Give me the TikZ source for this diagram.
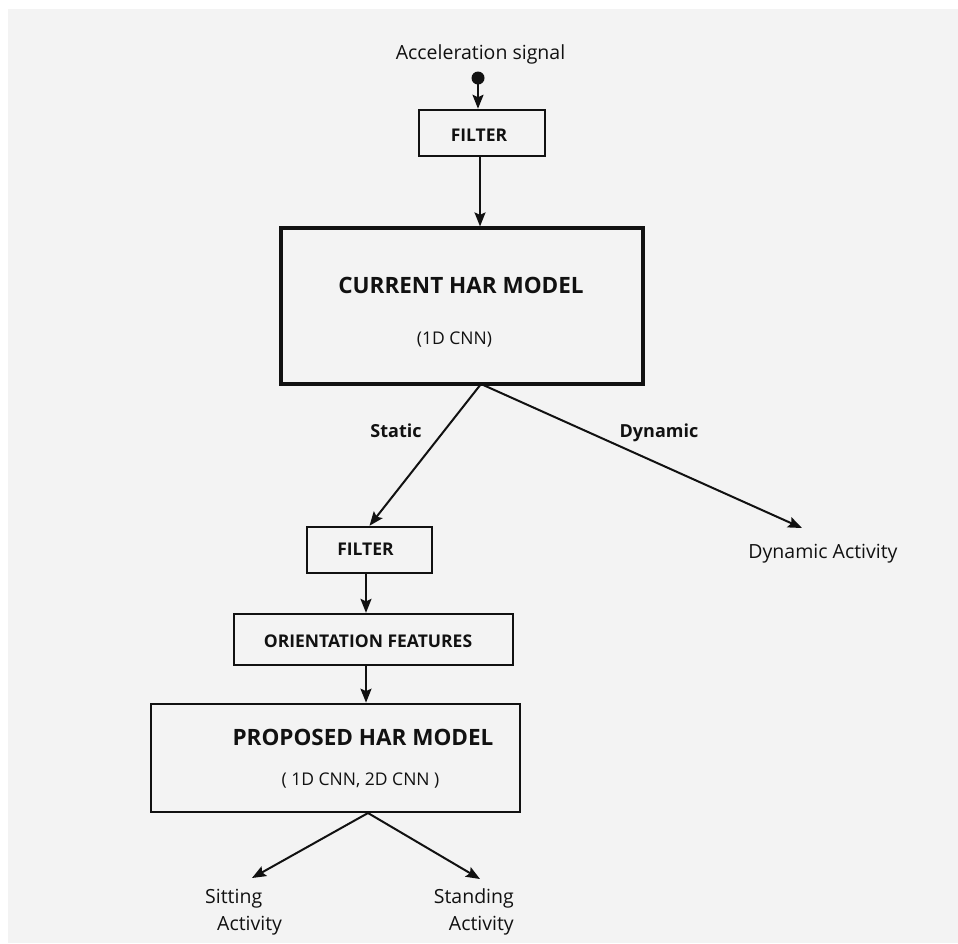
\documentclass[tikz,border=0pt]{standalone}
\usepackage{fontspec}
\setmainfont{Open Sans}
\usetikzlibrary{arrows.meta}
\definecolor{panel}{HTML}{F3F3F3}
\definecolor{ink}{HTML}{111111}
\newcommand{\fsz}[1]{\fontsize{#1}{1.2\dimexpr#1pt\relax}\selectfont}
\tikzset{
  box/.style={draw=ink, line width=2.5pt, fill=none, inner sep=0pt},
  bigbox/.style={box, line width=3.2pt},
  lbl/.style={inner sep=0pt, text=ink, anchor=base},
  arr/.style={draw=ink, line width=2pt, -{Stealth[length=14pt, width=11pt, inset=2.5pt]}},
}
\begin{document}
\begin{tikzpicture}[x=1pt, y=-1pt]
  % canvas
  \useasboundingbox (0,0) rectangle (958,943);
  \fill[white] (0,0) rectangle (958,943);
  \fill[panel] (8,9) rectangle (958,943);

  % input
  \node[lbl, font=\fsz{19.5}] (sig) at (480.5,59.5) {Acceleration signal};
  \node[circle, fill=ink, inner sep=0pt, minimum size=13pt] (dot) at (478,78) {};

  % first filter
  \node[box, minimum width=126pt, minimum height=46pt] (filt1) at (482,133) {};
  \node[lbl, font=\bfseries\fsz{17.5}] (filt1t) at (479,141.7) {FILTER};

  % current model
  \node[bigbox, minimum width=362pt, minimum height=156pt] (cur) at (462,306) {};
  \node[lbl, font=\bfseries\fsz{22.5}] (curt) at (461,293.3) {CURRENT HAR MODEL};
  \node[lbl, font=\fsz{17.5}] (curs) at (454.5,344) {(1D CNN)};
  \coordinate (cs) at (481,384);

  % branch labels
  \node[lbl, font=\bfseries\fsz{18}] (stat) at (396,437.3) {Static};
  \node[lbl, font=\bfseries\fsz{18}] (dynl) at (659,437.3) {Dynamic};

  % dynamic branch
  \node[lbl, font=\fsz{19.5}] (dyn) at (823,558.3) {Dynamic Activity};
  \coordinate (dynin) at (802,528);

  % second filter
  \node[box, minimum width=125pt, minimum height=46pt] (filt2) at (369.5,550) {};
  \node[lbl, font=\bfseries\fsz{17.5}] (filt2t) at (365.5,555.7) {FILTER};

  % orientation features
  \node[box, line width=2.3pt, minimum width=279pt, minimum height=51pt] (ori) at (373.5,639.5) {};
  \node[lbl, font=\bfseries\fsz{17.5}] (orit) at (368,647.7) {ORIENTATION FEATURES};

  % proposed model
  \node[box, line width=2.7pt, minimum width=369pt, minimum height=108pt] (prop) at (335.5,758) {};
  \node[lbl, font=\bfseries\fsz{22.5}] (propt) at (363,745.7) {PROPOSED HAR MODEL};
  \node[lbl, font=\fsz{17.5}] (props) at (360.5,785.7) {( 1D CNN, 2D CNN )};
  \coordinate (ps) at (368,813);

  % outputs
  \node[lbl, anchor=base west, font=\fsz{19.5}] (sitA) at (205,903) {Sitting};
  \node[lbl, anchor=base west, font=\fsz{19.5}] (sitB) at (217,930.5) {Activity};
  \node[lbl, anchor=base east, font=\fsz{19.5}] (stA) at (514,903) {Standing};
  \node[lbl, anchor=base east, font=\fsz{19.5}] (stB) at (514,930.5) {Activity};
  \coordinate (sitin) at (252,878);
  \coordinate (stin) at (480,879);

  % connectors
  \draw[arr] (dot.center) -- (dot.center |- filt1.north);
  \draw[arr] (filt1.south -| 480,0) -- (cur.north -| 480,0);
  \draw[arr] (cs) -- (filt2.north);
  \draw[arr] (cs) -- (dynin);
  \draw[arr] (filt2.south -| 366,0) -- (ori.north -| 366,0);
  \draw[arr] (ori.south -| 366,0) -- (prop.north -| 366,0);
  \draw[arr] (ps) -- (sitin);
  \draw[arr] (ps) -- (stin);
\end{tikzpicture}
\end{document}
